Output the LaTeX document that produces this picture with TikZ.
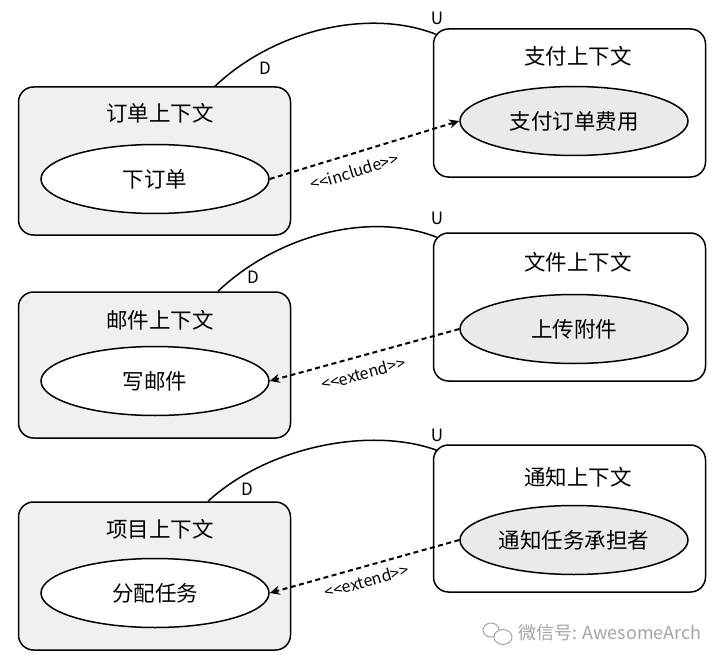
\documentclass[tikz,border=0pt]{standalone}
\usepackage{fontspec}
\setmainfont{Noto Sans CJK SC}
\usetikzlibrary{shapes.geometric,arrows.meta,calc}
\definecolor{boxgray}{RGB}{240,240,240}
\definecolor{ucgray}{RGB}{234,234,234}
\definecolor{wmgray}{RGB}{165,165,165}
\newcommand{\lt}{<\kern0pt<}
\newcommand{\gt}{>\kern0pt>}
\begin{document}
\begin{tikzpicture}[x=1pt,y=-1pt,
  ctxbox/.style={draw,line width=1.5pt,rounded corners=15pt,minimum width=272pt,inner sep=0pt},
  leftbox/.style={ctxbox,fill=boxgray},
  rightbox/.style={ctxbox,fill=white},
  ctxtitle/.style={font=\fontsize{21.5}{24}\selectfont,inner sep=0pt},
  usecase/.style={draw,ellipse,line width=1.5pt,minimum width=228pt,minimum height=69pt,inner sep=0pt,font=\fontsize{21.5}{24}\selectfont},
  leftuc/.style={usecase,fill=white},
  rightuc/.style={usecase,fill=ucgray},
  conn/.style={line width=1.5pt},
  dep/.style={line width=2pt,dash pattern=on 5pt off 3.5pt,-{Stealth[length=10pt,width=9pt]}},
  rel/.style={font=\fontsize{16}{18}\selectfont,inner sep=1pt},
  ud/.style={font=\fontsize{17}{19}\selectfont,inner sep=0pt}
]
\useasboundingbox[fill=white] (0,0) rectangle (720,666);

% boxes
\node[leftbox,minimum height=148pt] (l1) at (154.5,161) {};
\node[leftbox,minimum height=146pt] (l2) at (154.5,365) {};
\node[leftbox,minimum height=148pt] (l3) at (154.5,576) {};
\node[rightbox,minimum height=148pt] (r1) at (569.5,103) {};
\node[rightbox,minimum height=148pt] (r2) at (569.5,307) {};
\node[rightbox,minimum height=147pt] (r3) at (569.5,518.5) {};

% titles
\node[ctxtitle] (l1t) at (160,113) {订单上下文};
\node[ctxtitle] (l2t) at (160,320) {邮件上下文};
\node[ctxtitle] (l3t) at (160,529) {项目上下文};
\node[ctxtitle] (r1t) at (578,56) {支付上下文};
\node[ctxtitle] (r2t) at (578,262) {文件上下文};
\node[ctxtitle] (r3t) at (578,477) {通知上下文};

% use cases
\node[leftuc] (l1u) at (155,179) {下订单};
\node[leftuc] (l2u) at (155,381) {写邮件};
\node[leftuc] (l3u) at (155,593) {分配任务};
\node[rightuc] (r1u) at (574,121) {支付订单费用};
\node[rightuc] (r2u) at (574,329) {上传附件};
\node[rightuc] (r3u) at (574,540) {通知任务承担者};

% upstream/downstream curves
\draw[conn] ([xshift=60.5pt]l1.north) .. controls +(60,-57) and +(-66,-26) .. ([xshift=3pt,yshift=-6pt]r1.north west);
\draw[conn] ([xshift=63.5pt]l2.north) .. controls +(60,-57) and +(-66,-26) .. ([xshift=4pt,yshift=-5pt]r2.north west);
\draw[conn] ([xshift=53.5pt]l3.north) .. controls +(60,-55) and +(-66,-24) .. ([xshift=4pt,yshift=-6pt]r3.north west);

\node[ud] (d1) at (265,68) {D};
\node[ud] (u1) at (437,18) {U};
\node[ud] (d2) at (253,277) {D};
\node[ud] (u2) at (437,218) {U};
\node[ud] (d3) at (247,489) {D};
\node[ud] (u3) at (437,435) {U};

% dependencies
\draw[dep] (l1u.east) -- node[rel,sloped,below=9pt,pos=0.42] (inc1) {\lt include\gt} (r1u.west);
\draw[dep] (r2u.west) -- node[rel,sloped,below=9pt,pos=0.53] (ext2) {\lt extend\gt} (l2u.east);
\draw[dep] (r3u.west) -- node[rel,sloped,below=6pt,pos=0.51] (ext3) {\lt extend\gt} (l3u.east);

% watermark
\draw[wmgray,line width=1pt] (491,630) ellipse (8pt and 7pt);
\draw[wmgray,line width=1pt,fill=white] (503,637) ellipse (9pt and 7.5pt);
\node[text=wmgray,font=\fontsize{18}{20}\selectfont,inner sep=0pt,anchor=west] (wm) at (518,633) {微信号: AwesomeArch};
\end{tikzpicture}
\end{document}
